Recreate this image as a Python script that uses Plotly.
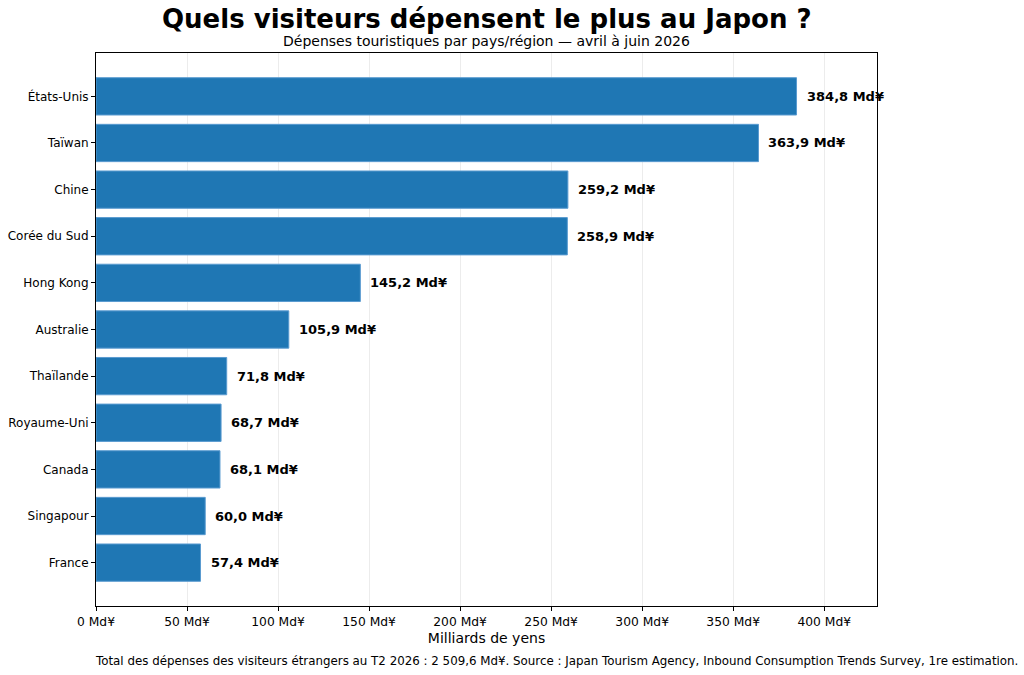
import plotly.graph_objects as go

# donnees (milliards de yens, T2 2026)
pays = ["États-Unis", "Taïwan", "Chine", "Corée du Sud", "Hong Kong", "Australie",
        "Thaïlande", "Royaume-Uni", "Canada", "Singapour", "France"]
depenses = [384.8, 363.9, 259.2, 258.9, 145.2, 105.9, 71.8, 68.7, 68.1, 60.0, 57.4]
tick_vals = [0, 50, 100, 150, 200, 250, 300, 350, 400]
tick_text = [f"{v} Md¥" for v in tick_vals]

FONT = "DejaVu Sans"

fig = go.Figure()
fig.add_trace(go.Bar(
    x=depenses, y=list(range(len(pays))), orientation="h",
    width=0.8, marker=dict(color="#1f77b4", line=dict(width=1, color="#5a9bd0")),
    hoverinfo="skip",
))

# etiquettes de valeur au bout des barres
for i, v in enumerate(depenses):
    fig.add_annotation(
        x=v, y=i, xref="x", yref="y", text="<b>" + f"{v:.1f}".replace(".", ",") + " Md¥</b>",
        showarrow=False, xanchor="left", yanchor="middle", xshift=8,
        font=dict(family=FONT, size=13, color="black"),
    )

fig.add_annotation(x=0.5, y=1.061, xref="paper", yref="paper", showarrow=False,
                   text="<b>Quels visiteurs dépensent le plus au Japon ?</b>",
                   font=dict(family=FONT, size=26, color="black"), yanchor="middle")
fig.add_annotation(x=0.5, y=1.021, xref="paper", yref="paper", showarrow=False,
                   text="Dépenses touristiques par pays/région — avril à juin 2026",
                   font=dict(family=FONT, size=14, color="black"), yanchor="middle")
fig.add_annotation(x=0, y=-0.099, xref="paper", yref="paper", showarrow=False,
                   text="Total des dépenses des visiteurs étrangers au T2 2026 : 2 509,6 Md¥. "
                        "Source : Japan Tourism Agency, Inbound Consumption Trends Survey, 1re estimation.",
                   font=dict(family=FONT, size=11.85, color="black"),
                   xanchor="left", yanchor="middle", xshift=-3)

fig.update_layout(
    width=1024, height=675,
    margin=dict(l=96, r=147, t=53, b=69),
    paper_bgcolor="white", plot_bgcolor="white",
    showlegend=False,
    font=dict(family=FONT, size=12, color="black"),
    xaxis=dict(
        range=[0, 429], tickvals=tick_vals, ticktext=tick_text,
        tickfont=dict(family=FONT, size=12.3),
        showgrid=True, gridcolor="#ececec", gridwidth=1,
        showline=True, linecolor="black", linewidth=1, mirror=True,
        ticks="outside", ticklen=4, tickcolor="black", zeroline=False,
        title=dict(text="Milliards de yens", font=dict(family=FONT, size=14), standoff=5),
    ),
    yaxis=dict(
        range=[10.93, -0.93], tickvals=list(range(len(pays))), ticktext=pays,
        showgrid=False, showline=True, linecolor="black", linewidth=1, mirror=True,
        ticks="outside", ticklen=4, tickcolor="black", zeroline=False,
        automargin=False,
    ),
)

# on retire la marge par defaut de la page pour que la figure colle au coin
fig.write_html("out.html", config={"displayModeBar": False},
               post_script="document.body.style.margin='0px';")
